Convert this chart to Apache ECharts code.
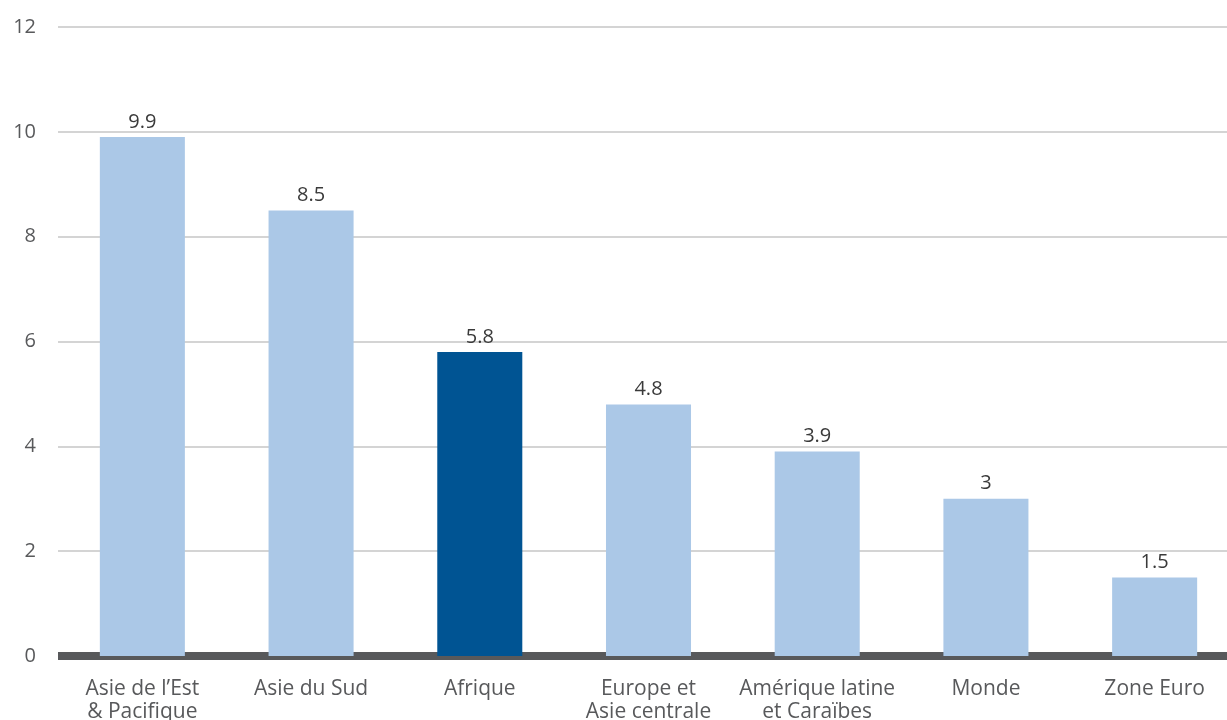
<!DOCTYPE html>
<html>
<head>
<meta charset="utf-8">
<script src="https://cdn.jsdelivr.net/npm/echarts@6/dist/echarts.min.js"></script>
<style>
  html, body { margin: 0; padding: 0; background: #fff; }
  #chart { width: 1227px; height: 720px; }
</style>
</head>
<body>
<div id="chart"></div>
<script>
// Régions et croissance (%)
const categories = [
  "Asie de l\u2019Est\n& Pacifique",
  "Asie du Sud",
  "Afrique",
  "Europe et\nAsie centrale",
  "Amérique latine\net Caraïbes",
  "Monde",
  "Zone Euro"
];
const values = [9.9, 8.5, 5.8, 4.8, 3.9, 3, 1.5];
const highlighted = "Afrique";
const yTicks = [0, 2, 4, 6, 8, 10, 12];

const LIGHT = "#abc8e7";
const DARK = "#005493";
const FONT = "'Open Sans', 'Noto Sans', sans-serif";

const chart = echarts.init(document.getElementById("chart"), null, { renderer: "canvas" });

chart.setOption({
  animation: false,
  // the plot area runs a little past the right edge of the canvas
  grid: { left: 58, top: 27, width: 1181, height: 629, containLabel: false, outerBoundsMode: "none" },
  xAxis: {
    type: "category",
    data: categories,
    axisLine: { show: true, onZero: true, lineStyle: { color: "#58595b", width: 8, cap: "butt" } },
    axisTick: { show: false },
    axisLabel: {
      color: "#58595b",
      fontFamily: FONT,
      fontSize: 21,
      lineHeight: 23,
      margin: 22,
      interval: 0
    }
  },
  yAxis: {
    type: "value",
    min: yTicks[0],
    max: yTicks[yTicks.length - 1],
    interval: 2,
    axisLine: { show: false },
    axisTick: { show: false },
    splitLine: { lineStyle: { color: "#d4d4d4", width: 2 } },
    axisLabel: {
      color: "#58595b",
      fontFamily: FONT,
      fontSize: 20,
      margin: 22
    }
  },
  series: [{
    type: "bar",
    barWidth: "50.4%",
    data: values.map((v, i) => ({
      value: v,
      itemStyle: { color: categories[i] === highlighted ? DARK : LIGHT }
    })),
    label: {
      show: true,
      position: "top",
      distance: 5,
      color: "#3a3a3a",
      fontFamily: FONT,
      fontSize: 20
    }
  }]
});
</script>
</body>
</html>
